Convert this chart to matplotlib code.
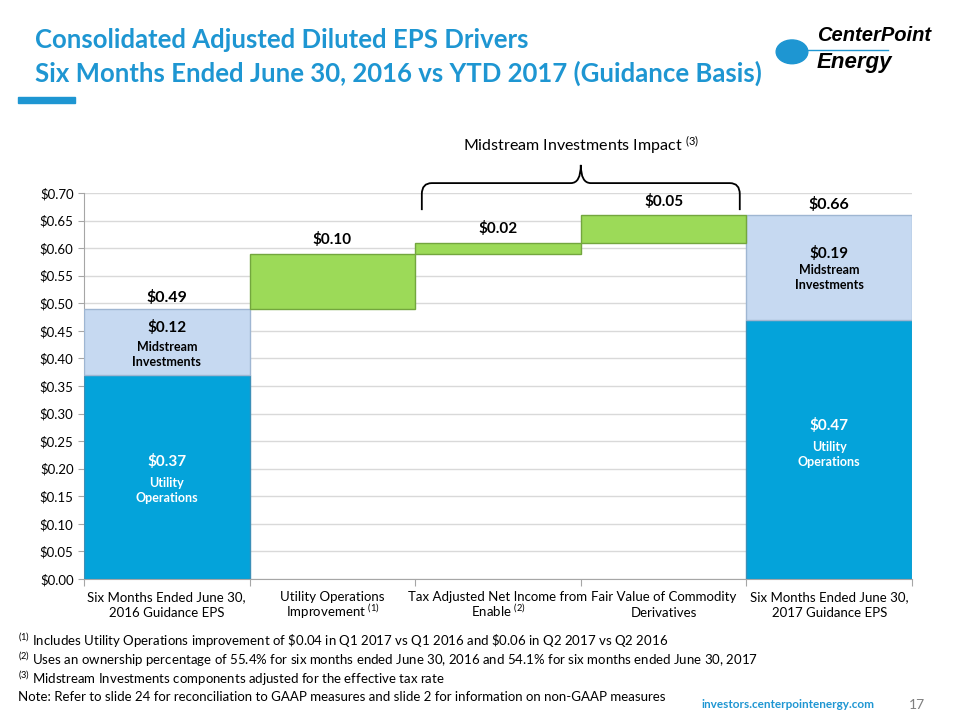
import numpy as np
import matplotlib
matplotlib.use('Agg')
import matplotlib.pyplot as plt
from matplotlib.path import Path
from matplotlib.patches import PathPatch, Circle, Rectangle
from matplotlib.ticker import FuncFormatter, MultipleLocator

plt.rcParams['font.family'] = ['Lato', 'DejaVu Sans']
plt.rcParams['mathtext.fontset'] = 'custom'
plt.rcParams['mathtext.rm'] = 'Lato'
plt.rcParams['mathtext.default'] = 'regular'

# data
categories = ['Six Months Ended June 30,\n2016 Guidance EPS',
              'Utility Operations\nImprovement $^{(1)}$',
              'Tax Adjusted Net Income from\nEnable $^{(2)}$',
              'Fair Value of Commodity\nDerivatives',
              'Six Months Ended June 30,\n2017 Guidance EPS']
utility_ops = [0.37, 0.47]
midstream = [0.12, 0.19]
drivers = [0.10, 0.02, 0.05]
totals = [0.49, 0.66]
footnotes = [r'$^{(1)}$ Includes Utility Operations improvement of \$0.04 in Q1 2017 vs Q1 2016 and \$0.06 in Q2 2017 vs Q2 2016',
             r'$^{(2)}$ Uses an ownership percentage of 55.4% for six months ended June 30, 2016 and 54.1% for six months ended June 30, 2017',
             r'$^{(3)}$ Midstream Investments components adjusted for the effective tax rate',
             'Note: Refer to slide 24 for reconciliation to GAAP measures and slide 2 for information on non-GAAP measures']

BLUE = '#04A3DA'
LIGHT = '#C6D9F1'
GREEN = '#9CDA58'
TITLE = '#1E96D2'

fig = plt.figure(figsize=(9.6, 7.2), dpi=100)
ax = fig.add_axes([0.0875, 0.1958, 0.8625, 0.5361])

x = np.arange(len(categories))
end_idx = [0, 4]

# stacked totals
ax.bar([0, 4], utility_ops, width=1.0, color=BLUE, edgecolor='#3B8FB8', linewidth=1, zorder=3)
ax.bar([0, 4], midstream, width=1.0, bottom=utility_ops, color=LIGHT, edgecolor='#9FB6D2', linewidth=1, zorder=3)

# floating drivers
bottoms = totals[0] + np.concatenate([[0], np.cumsum(drivers)[:-1]])
ax.bar(x[1:4], drivers, width=1.0, bottom=bottoms, color=GREEN, edgecolor='#73A63E', linewidth=1, zorder=3)

ax.set_xlim(-0.5, 4.5)
ax.set_ylim(0, 0.70)
ax.yaxis.set_major_locator(MultipleLocator(0.05))
ax.yaxis.set_major_formatter(FuncFormatter(lambda v, p: r'\$%.2f' % v))
ax.grid(axis='y', color='#D9D9D9', linewidth=1, zorder=0)
ax.set_axisbelow(True)
for s in ['top', 'right']:
    ax.spines[s].set_visible(False)
ax.spines['left'].set_color('#A6A6A6')
ax.spines['bottom'].set_color('#A6A6A6')
ax.set_xticks(np.arange(-0.5, 5.0, 1.0))
ax.set_xticklabels([])
ax.tick_params(axis='x', which='major', length=5, color='#A6A6A6')
ax.tick_params(axis='y', labelsize=9.5, length=4, color='#A6A6A6')

# category labels, one text per line so the superscripts don't shift the lines
for xi, lab in zip(x, categories):
    for line, yy in zip(lab.split('\n'), [-0.040, -0.069]):
        ax.text(xi, yy, line, ha='center', va='baseline', fontsize=9.5, clip_on=False)

# labels
bold = dict(fontweight='bold', ha='center', va='center')
label_offsets = [(0.033, 0.082), (0.069, 0.114)]
for i, tot, (o1, o2) in zip(end_idx, totals, label_offsets):
    m = midstream[end_idx.index(i)]
    ax.text(i, tot + 0.02, r'\$%.2f' % tot, fontsize=11.5, **bold)
    ax.text(i, tot - o1, r'\$%.2f' % m, fontsize=11, **bold)
    ax.text(i, tot - o2, 'Midstream\nInvestments', fontsize=9, linespacing=1.3, **bold)
ax.text(0, 0.214, r'\$%.2f' % utility_ops[0], fontsize=11, color='white', **bold)
ax.text(0, 0.16, 'Utility\nOperations', fontsize=9, color='white', linespacing=1.3, **bold)
ax.text(4, 0.279, r'\$%.2f' % utility_ops[1], fontsize=11, color='white', **bold)
ax.text(4, 0.225, 'Utility\nOperations', fontsize=9, color='white', linespacing=1.3, **bold)
for xi, b, d in zip(x[1:4], bottoms, drivers):
    ax.text(xi, b + d + 0.025, r'\$%.2f' % d, fontsize=11, **bold)

# brace over midstream drivers
xl, xr, xm = 1.54, 3.46, 2.5
yb, yh, yp = 0.669, 0.718, 0.751
r = 0.06
verts = [(xl, yb), (xl, yh - 0.02), (xl, yh), (xl + r, yh),
         (xm - r, yh), (xm, yh), (xm, yp),
         (xm, yh), (xm + r, yh),
         (xr - r, yh), (xr, yh), (xr, yh - 0.02), (xr, yb)]
codes = [Path.MOVETO, Path.LINETO, Path.CURVE3, Path.CURVE3,
         Path.LINETO, Path.CURVE3, Path.CURVE3,
         Path.CURVE3, Path.CURVE3,
         Path.LINETO, Path.CURVE3, Path.CURVE3, Path.LINETO]
ax.add_patch(PathPatch(Path(verts, codes), fill=False, lw=1.3, ec='black', clip_on=False))
ax.text(xm, 0.787, 'Midstream Investments Impact $^{(3)}$', ha='center', va='center', fontsize=11.5)

# title and decorations
fig.text(0.036, 0.944, 'Consolidated Adjusted Diluted EPS Drivers', color=TITLE,
         fontsize=18.5, fontweight='bold', va='center', ha='left')
fig.text(0.036, 0.898, 'Six Months Ended June 30, 2016 vs YTD 2017 (Guidance Basis)', color=TITLE,
         fontsize=18.5, fontweight='bold', va='center', ha='left')
fig.patches.append(Rectangle((0.019, 0.857), 0.059, 0.008, transform=fig.transFigure,
                             color=TITLE, zorder=5))

# logo
fig.patches.append(Circle((0.825, 0.928), 0.0165, transform=fig.transFigure, color='#1E96D2'))
fig.lines.append(plt.Line2D([0.825, 0.925], [0.930, 0.930], transform=fig.transFigure,
                            color='#1E96D2', lw=1))
logo_font = ['Liberation Sans Narrow', 'Liberation Sans', 'DejaVu Sans']
fig.text(0.851, 0.951, 'CenterPoint', fontsize=14.5, fontweight='bold', style='italic',
         family=logo_font, va='center', ha='left')
fig.text(0.851, 0.913, 'Energy', fontsize=16, fontweight='bold', style='italic',
         family=logo_font, va='center', ha='left')

# footnotes
for k, t in enumerate(footnotes):
    fig.text(0.019, 0.110 - k * 0.0262, t, fontsize=9.5, va='center', ha='left')
fig.text(0.821, 0.021, 'investors.centerpointenergy.com', color=TITLE, fontsize=8.5,
         fontweight='bold', ha='center', va='center')
fig.text(0.955, 0.021, '17', color='#7F7F7F', fontsize=10, ha='center', va='center')

fig.savefig('out.png', dpi=100)
